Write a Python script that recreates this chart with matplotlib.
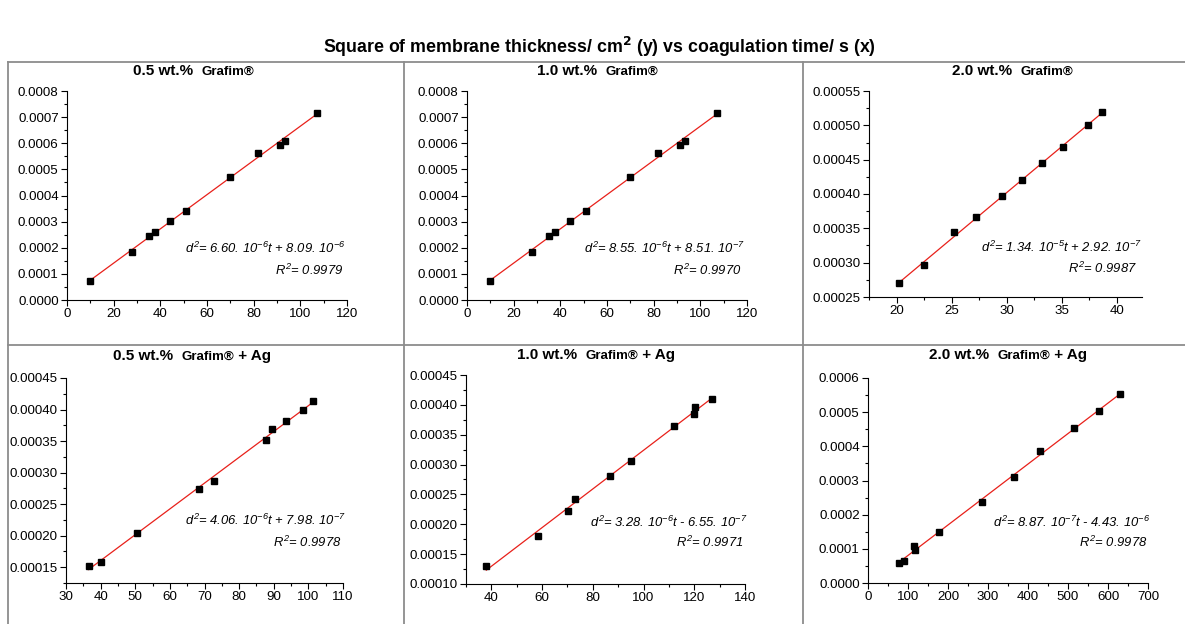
import numpy as np
import matplotlib
matplotlib.use("Agg")
import matplotlib.pyplot as plt
from matplotlib import font_manager
from matplotlib.ticker import MultipleLocator, FormatStrFormatter
from matplotlib.lines import Line2D

installed = {f.name for f in font_manager.fontManager.ttflist}
NARROW = "Liberation Sans Narrow" if "Liberation Sans Narrow" in installed else "Liberation Sans"
narrow_ok = NARROW == "Liberation Sans Narrow"

plt.rcParams["font.family"] = ["Liberation Sans", "DejaVu Sans"]
plt.rcParams["mathtext.fontset"] = "custom"
plt.rcParams["mathtext.rm"] = NARROW + ":italic"
plt.rcParams["mathtext.it"] = NARROW + ":italic"

W, H = 1185, 624

# ---------------------------------------------------------
# data
# ---------------------------------------------------------
t_05 = [10.0, 27.9, 35.3, 37.6, 44.0, 51.1, 69.7, 81.9, 91.1, 93.3, 107.1]
d2_05 = [0.000074, 0.000182, 0.000246, 0.000261, 0.000304, 0.000342,
         0.000471, 0.000564, 0.000594, 0.000610, 0.000716]

t_10 = [10.0, 27.9, 35.3, 37.6, 44.0, 51.1, 69.7, 81.9, 91.1, 93.3, 107.1]
d2_10 = [0.000074, 0.000182, 0.000246, 0.000261, 0.000304, 0.000342,
         0.000471, 0.000564, 0.000594, 0.000610, 0.000716]

t_20 = [20.2, 22.5, 25.2, 27.2, 29.6, 31.4, 33.2, 35.1, 37.4, 38.7]
d2_20 = [0.000270, 0.000296, 0.000344, 0.000366, 0.000397, 0.000420,
         0.000445, 0.000469, 0.000500, 0.000519]

t_05ag = [36.5, 40.2, 50.5, 68.3, 72.6, 87.8, 89.4, 93.5, 98.5, 101.2]
d2_05ag = [0.000152, 0.000159, 0.000204, 0.000274, 0.000287, 0.000352,
           0.000369, 0.000382, 0.000399, 0.000413]

t_10ag = [38.0, 58.2, 70.4, 73.0, 86.7, 95.1, 111.9, 119.7, 120.3, 126.8]
d2_10ag = [0.000130, 0.000180, 0.000222, 0.000243, 0.000281, 0.000306,
           0.000364, 0.000385, 0.000396, 0.000409]

t_20ag = [76.7, 89.2, 114.0, 117.5, 177.5, 284.0, 364.0, 429.0, 515.0, 578.0, 629.0]
d2_20ag = [0.0000574, 0.0000642, 0.000108, 0.0000953, 0.000150, 0.000236,
           0.000309, 0.000387, 0.000453, 0.000502, 0.000553]

conc = ["0.5 wt.%", "1.0 wt.%", "2.0 wt.%", "0.5 wt.%", "1.0 wt.%", "2.0 wt.%"]
material = ["Grafim\u00ae", "Grafim\u00ae", "Grafim\u00ae",
            "Grafim\u00ae", "Grafim\u00ae", "Grafim\u00ae"]
silver = [False, False, False, True, True, True]

equations = [
    r"$d^2$= 6.60. 10$^{-6}$t + 8.09. 10$^{-6}$",
    r"$d^2$= 8.55. 10$^{-6}$t + 8.51. 10$^{-7}$",
    r"$d^2$= 1.34. 10$^{-5}$t + 2.92. 10$^{-7}$",
    r"$d^2$= 4.06. 10$^{-6}$t + 7.98. 10$^{-7}$",
    r"$d^2$= 3.28. 10$^{-6}$t - 6.55. 10$^{-7}$",
    r"$d^2$= 8.87. 10$^{-7}$t - 4.43. 10$^{-6}$",
]
r2 = ["0.9979", "0.9970", "0.9987", "0.9978", "0.9971", "0.9978"]

series = [(t_05, d2_05), (t_10, d2_10), (t_20, d2_20),
          (t_05ag, d2_05ag), (t_10ag, d2_10ag), (t_20ag, d2_20ag)]

# ---------------------------------------------------------
# layout (pixel boxes of each axes: left, right, top, bottom)
# ---------------------------------------------------------
boxes = [(67, 347, 91, 300), (467, 747, 91, 300), (869, 1142, 91, 297),
         (66, 343, 378, 583), (466, 745, 375, 584), (868, 1148, 378, 583)]
xlims = [(0, 120), (0, 120), (17.5, 42.3), (30, 110), (30, 140), (0, 700)]
ylims = [(0, 0.0008), (0, 0.0008), (0.00025, 0.00055),
         (0.000125, 0.00045), (0.0001, 0.00045), (0, 0.0006)]
xmaj = [20, 20, 5, 10, 20, 100]
ymaj = [0.0001, 0.0001, 0.00005, 0.00005, 0.00005, 0.0001]
yfmt = ["%.4f", "%.4f", "%.5f", "%.5f", "%.5f", "%.4f"]
title_pos = [(133, 78), (537, 78), (952, 78), (113, 363), (517, 362), (929, 362)]
eq_pos = [(0.993, 0.225, 0.986, 0.12), (0.993, 0.225, 0.982, 0.12),
          (1.0, 0.218, 0.98, 0.117), (1.01, 0.283, 0.996, 0.176),
          (1.01, 0.273, 0.993, 0.177), (1.007, 0.273, 1.0, 0.176)]

tick_size = 11 if narrow_ok else 9.6
eq_size = 10.5 if narrow_ok else 9.4

fig = plt.figure(figsize=(W / 100, H / 100), dpi=100)

fig.text(0.506, 1 - 53 / H,
         r"Square of membrane thickness/ cm$^{\mathbf{2}}$ (y) vs coagulation time/ s (x)",
         ha="center", va="baseline", fontsize=12.8, fontweight="heavy",
         math_fontfamily="dejavusans")

# table frame
gray = "#8c8c8c"
for y in [62, 345]:
    fig.add_artist(Line2D([8 / W, 1], [1 - y / H, 1 - y / H], color=gray, lw=1.3,
                          transform=fig.transFigure))
for x in [8, 404, 803]:
    fig.add_artist(Line2D([x / W, x / W], [1 - 62 / H, 0], color=gray, lw=1.3,
                          transform=fig.transFigure))

for i, (t, d2) in enumerate(series):
    l, r, tp, b = boxes[i]
    ax = fig.add_axes([l / W, 1 - b / H, (r - l) / W, (b - tp) / H])
    t = np.array(t)
    d2 = np.array(d2)
    k, c = np.polyfit(t, d2, 1)
    xx = np.array([t.min(), t.max()])
    ax.plot(xx, k * xx + c, color="#e8201a", lw=0.9, zorder=2)
    ax.plot(t, d2, "s", color="black", ms=4.3, zorder=3)

    ax.set_xlim(*xlims[i])
    ax.set_ylim(*ylims[i])
    ax.xaxis.set_major_locator(MultipleLocator(xmaj[i]))
    ax.xaxis.set_minor_locator(MultipleLocator(xmaj[i] / 2))
    ax.yaxis.set_major_locator(MultipleLocator(ymaj[i]))
    ax.yaxis.set_minor_locator(MultipleLocator(ymaj[i] / 2))
    ax.yaxis.set_major_formatter(FormatStrFormatter(yfmt[i]))
    for s in ["top", "right"]:
        ax.spines[s].set_visible(False)
    ax.tick_params(which="major", direction="out", length=4, width=0.8,
                   labelsize=tick_size, pad=2)
    ax.tick_params(which="minor", direction="out", length=2.5, width=0.8)
    for lab in ax.get_xticklabels() + ax.get_yticklabels():
        lab.set_family([NARROW, "DejaVu Sans"])
    ax.patch.set_alpha(0)

    x1, y1, x2, y2 = eq_pos[i]
    ax.text(x1, y1, equations[i], transform=ax.transAxes, ha="right",
            va="baseline", fontsize=eq_size, fontstyle="italic",
            family=[NARROW, "DejaVu Sans"])
    ax.text(x2, y2, r"$R^2$= " + r2[i], transform=ax.transAxes, ha="right",
            va="baseline", fontsize=eq_size, fontstyle="italic",
            family=[NARROW, "DejaVu Sans"])

    # panel title
    tx, ty = title_pos[i]
    t1 = fig.text(tx / W, 1 - ty / H, conc[i] + "  ", ha="left", va="bottom",
                  fontsize=11, fontweight="bold")
    a2 = ax.annotate(material[i], xy=(1, 0), xycoords=t1, ha="left",
                     va="bottom", fontsize=9.5, fontweight="bold",
                     annotation_clip=False)
    if silver[i]:
        ax.annotate(" + Ag", xy=(1, 0), xycoords=a2, ha="left", va="bottom",
                    fontsize=11, fontweight="bold", annotation_clip=False)

fig.savefig("out.png", dpi=100)
